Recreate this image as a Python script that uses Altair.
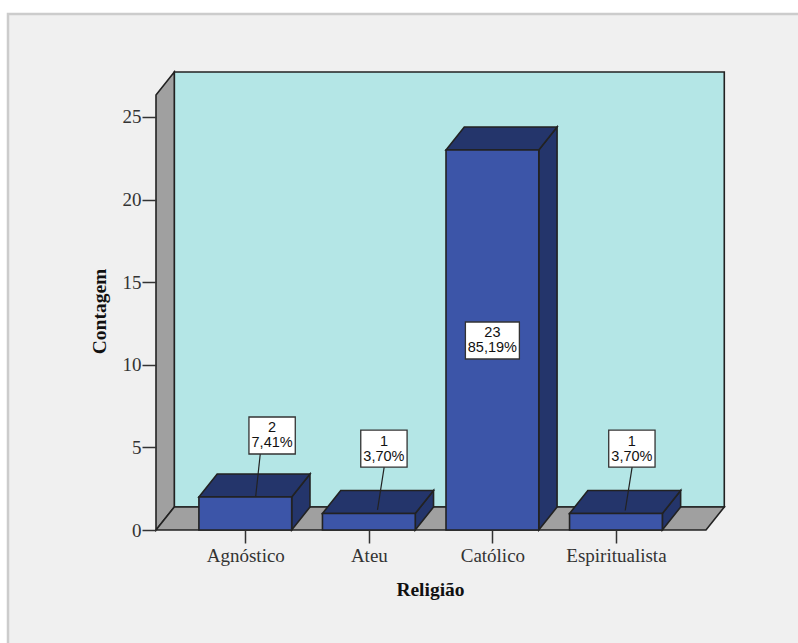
import altair as alt
import pandas as pd

# Values shown in the chart
categories = ["Agnóstico", "Ateu", "Católico", "Espiritualista"]
counts = [2, 1, 23, 1]
percents = ["7,41%", "3,70%", "85,19%", "3,70%"]

# Scene extent, in axis units
X_MIN, X_MAX = -0.7228, 3.8746
FLOOR_RIGHT = 3.7289
Y_TOP = 27.72
DEPTH_X, DEPTH_Y = 0.148, 1.39
BAR_HALF = 0.3755

# Callout placement, in axis units
label_dx = [0.217, 0.122, 0.0, 0.129]
label_y = [5.72, 4.93, 11.47, 4.93]
label_half = [0.1875, 0.1875, 0.2185, 0.1875]
LABEL_HALF_H = 1.12
leader_dx_top = [0.121, 0.124, None, 0.131]
leader_dx_end = [0.084, 0.07, None, 0.075]
leader_y_end = [2.03, 1.22, None, 1.18]

X_TICKS = list(range(len(categories)))
Y_TICKS = [0, 5, 10, 15, 20, 25]
SERIF = "Liberation Serif"
SANS = "Liberation Sans"
EDGE = "#222222"


def side_face(name, x, y0, y1):
    """Receding vertical face going back from the front edge at x."""
    return [
        {"face": name, "x": x, "low": y0, "high": y1},
        {"face": name, "x": x + DEPTH_X, "low": y0 + DEPTH_Y, "high": y1 + DEPTH_Y},
    ]


def top_face(name, x0, x1, y):
    """Receding horizontal face going back from the front edge x0..x1 at height y."""
    return [
        {"face": name, "x": x0, "low": y, "high": y},
        {"face": name, "x": x0 + DEPTH_X, "low": y, "high": y + DEPTH_Y},
        {"face": name, "x": x1, "low": y, "high": y + DEPTH_Y},
        {"face": name, "x": x1 + DEPTH_X, "low": y + DEPTH_Y, "high": y + DEPTH_Y},
    ]


x_scale = alt.Scale(domain=[X_MIN, X_MAX], nice=False, zero=False)
y_scale = alt.Scale(domain=[0, Y_TOP], nice=False, zero=False)

# Every layer carries the same axis definition so that the axes merge into one
x_axis = alt.Axis(
    values=X_TICKS,
    labelExpr="['Agnóstico','Ateu','Católico','Espiritualista'][datum.value]",
    title="Religião",
    titleFont=SERIF, titleFontSize=19.5, titleFontWeight="bold", titleColor="#111111",
    titleX=274, titleY=50,
    labelFont=SERIF, labelFontSize=19, labelColor="#333333",
    labelPadding=3, labelFlush=False, labelOverlap=False,
    grid=False, domain=False,
    tickSize=13, tickWidth=1.5, tickColor="#333333",
    zindex=1,
)
y_axis = alt.Axis(
    values=Y_TICKS,
    title="Contagem",
    titleFont=SERIF, titleFontSize=19.5, titleFontWeight="bold", titleColor="#111111",
    titleX=-47, titleY=239,
    labelFont=SERIF, labelFontSize=19, labelColor="#333333",
    labelPadding=1, labelFlush=False, labelOffset=0,
    grid=False, domain=False,
    tickSize=14, tickWidth=1.5, tickColor="#333333",
    zindex=1,
)
X = alt.X("x:Q", scale=x_scale, axis=x_axis)
Y = alt.Y("high:Q", scale=y_scale, axis=y_axis)


def faces(rows, fill):
    return (
        alt.Chart(pd.DataFrame(rows))
        .mark_area(fill=fill, stroke=EDGE, strokeWidth=1.6, opacity=1)
        .encode(x=X, y=Y, y2=alt.Y2("low:Q"), detail="face:N")
    )


# Page panel behind everything
panel = (
    alt.Chart(pd.DataFrame({"a": [0]}))
    .mark_rect(fill="#f0f0f0", stroke="#cccccc", strokeWidth=2.5)
    .encode(
        x=alt.value(-148), x2=alt.value(700),
        y=alt.value(-58), y2=alt.value(600),
    )
)

# Walls and floor of the box
back_wall = [
    {"face": "back", "x": X_MIN + DEPTH_X, "low": DEPTH_Y, "high": Y_TOP},
    {"face": "back", "x": FLOOR_RIGHT + DEPTH_X, "low": DEPTH_Y, "high": Y_TOP},
]
side_wall = side_face("side", X_MIN, 0, Y_TOP - DEPTH_Y)
floor = top_face("floor", X_MIN, FLOOR_RIGHT, 0)

# Bars: front, right side and top faces
front_rows, side_rows, top_rows = [], [], []
for i, (cat, n) in enumerate(zip(categories, counts)):
    x0, x1 = i - BAR_HALF, i + BAR_HALF
    front_rows += [
        {"face": cat, "x": x0, "low": 0, "high": n},
        {"face": cat, "x": x1, "low": 0, "high": n},
    ]
    side_rows += side_face(cat, x1, 0, n)
    top_rows += top_face(cat, x0, x1, n)

# Callouts
callouts = pd.DataFrame(
    {
        "x": [i + d - h for i, (d, h) in enumerate(zip(label_dx, label_half))],
        "x2": [i + d + h for i, (d, h) in enumerate(zip(label_dx, label_half))],
        "xc": [i + d for i, d in enumerate(label_dx)],
        "high": [y + LABEL_HALF_H for y in label_y],
        "low": [y - LABEL_HALF_H for y in label_y],
        "yc": label_y,
    }
)
callouts["text"] = [f"{n}\n{p}" for n, p in zip(counts, percents)]

leaders = pd.DataFrame(
    [
        {
            "x": i + top_dx,
            "x2": i + end_dx,
            "high": label_y[i] - LABEL_HALF_H,
            "low": end_y,
        }
        for i, (top_dx, end_dx, end_y) in enumerate(
            zip(leader_dx_top, leader_dx_end, leader_y_end)
        )
        if top_dx is not None
    ]
)

leader_lines = (
    alt.Chart(leaders)
    .mark_rule(color=EDGE, strokeWidth=1.2)
    .encode(x=X, x2="x2:Q", y=Y, y2="low:Q")
)
boxes = (
    alt.Chart(callouts)
    .mark_rect(fill="white", stroke="#333333", strokeWidth=1.3)
    .encode(x=X, x2="x2:Q", y=Y, y2="low:Q")
)
box_text = (
    alt.Chart(callouts)
    .mark_text(
        font=SANS, fontSize=14.5, color="#111111",
        lineBreak="\n", lineHeight=15, baseline="middle", dy=-7,
    )
    .encode(
        x=alt.X("xc:Q", scale=x_scale, axis=x_axis),
        y=alt.Y("yc:Q", scale=y_scale, axis=y_axis),
        text="text:N",
    )
)

chart = (
    alt.layer(
        panel,
        faces(back_wall, "#b4e6e6"),
        faces(side_wall, "#a0a0a0"),
        faces(floor, "#a0a0a0"),
        faces(side_rows, "#24356b"),
        faces(top_rows, "#24356b"),
        faces(front_rows, "#3c55a8"),
        leader_lines,
        boxes,
        box_text,
    )
    .properties(
        width=568,
        height=458,
        background="white",
        padding={"left": 156, "top": 72, "right": 74, "bottom": 113},
        autosize=alt.AutoSizeParams(type="none"),
    )
    .configure_view(strokeWidth=0)
)

chart.save("out.html", embed_options={"renderer": "svg", "actions": False})
